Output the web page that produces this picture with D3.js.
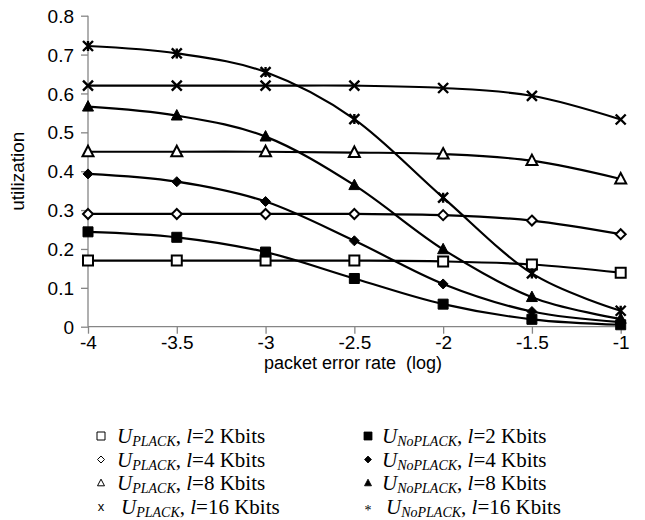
<!DOCTYPE html>
<html>
<head>
<meta charset="utf-8">
<script src="https://cdn.jsdelivr.net/npm/d3@7"></script>
<style>
  body { margin: 0; background: #fff; }
  svg { display: block; }
</style>
</head>
<body>
<div id="chart"></div>
<script>
// data
const xValues = [-4, -3.5, -3, -2.5, -2, -1.5, -1];
const yTicks = [0, 0.1, 0.2, 0.3, 0.4, 0.5, 0.6, 0.7, 0.8];

const plack2 = [0.17, 0.17, 0.17, 0.17, 0.168, 0.16, 0.139];
const plack4 = [0.29, 0.29, 0.29, 0.29, 0.287, 0.273, 0.238];
const plack8 = [0.45, 0.45, 0.45, 0.448, 0.444, 0.427, 0.38];
const plack16 = [0.62, 0.62, 0.62, 0.62, 0.614, 0.594, 0.533];

const noplack2 = [0.244, 0.23, 0.192, 0.124, 0.058, 0.019, 0.005];
const noplack4 = [0.393, 0.373, 0.322, 0.221, 0.11, 0.039, 0.012];
const noplack8 = [0.566, 0.543, 0.489, 0.364, 0.199, 0.076, 0.02];
const noplack16 = [0.722, 0.703, 0.655, 0.534, 0.332, 0.137, 0.041];

const series = [
  { values: plack2, marker: "square", filled: false, size: "2", sub: "PLACK" },
  { values: plack4, marker: "diamond", filled: false, size: "4", sub: "PLACK" },
  { values: plack8, marker: "triangle", filled: false, size: "8", sub: "PLACK" },
  { values: plack16, marker: "x", filled: false, size: "16", sub: "PLACK" },
  { values: noplack2, marker: "square", filled: true, size: "2", sub: "NoPLACK" },
  { values: noplack4, marker: "diamond", filled: true, size: "4", sub: "NoPLACK" },
  { values: noplack8, marker: "triangle", filled: true, size: "8", sub: "NoPLACK" },
  { values: noplack16, marker: "star", filled: true, size: "16", sub: "NoPLACK" }
];

const width = 645, height = 520;
const plotLeft = 88, plotRight = 620.7, plotTop = 15.7, plotBottom = 326.7;
const sans = "'Liberation Sans', Arial, sans-serif";
const serif = "'Liberation Serif', 'Times New Roman', serif";

const svg = d3.select("#chart").append("svg")
  .attr("width", width)
  .attr("height", height);

const x = d3.scaleLinear().domain([-4, -1]).range([plotLeft, plotRight]);
const y = d3.scaleLinear().domain([0, 0.8]).range([plotBottom, plotTop]);

// axes
const axisColor = "#868686";
const yAxis = d3.axisLeft(y).tickValues(yTicks).tickSize(7).tickFormat(d => String(+d.toFixed(1)));
const xAxis = d3.axisBottom(x).tickValues(xValues).tickSize(7).tickFormat(d => String(d));

const gy = svg.append("g").attr("transform", `translate(${plotLeft},0)`).call(yAxis);
const gx = svg.append("g").attr("transform", `translate(0,${plotBottom})`).call(xAxis);

[gx, gy].forEach(g => {
  g.select(".domain").attr("stroke", axisColor).attr("stroke-width", 1.3);
  g.selectAll(".tick line").attr("stroke", axisColor).attr("stroke-width", 1.3);
  g.selectAll(".tick text")
    .attr("fill", "#000")
    .style("font-family", sans)
    .style("font-size", "19px");
});
gy.select(".domain").attr("d", `M0,${plotBottom}V${plotTop}`);
gx.select(".domain").attr("d", `M${plotLeft},0H${plotRight}`);
gy.selectAll(".tick text").attr("x", -14).attr("dy", "0.35em");
gx.selectAll(".tick text").attr("y", 22).attr("dy", 0);

// axis titles
svg.append("text")
  .attr("transform", `translate(24,${(plotTop + plotBottom) / 2}) rotate(-90)`)
  .attr("text-anchor", "middle")
  .style("font-family", sans)
  .style("font-size", "19px")
  .text("utilization");

svg.append("text")
  .attr("x", 353)
  .attr("y", 369)
  .attr("text-anchor", "middle")
  .style("font-family", sans)
  .style("font-size", "18px")
  .style("white-space", "pre")
  .text("packet error rate  (log)");

// markers
function markerPath(type, s) {
  const h = s / 2;
  if (type === "square") return `M${-h},${-h}H${h}V${h}H${-h}Z`;
  if (type === "diamond") return `M0,${-h}L${h},0L0,${h}L${-h},0Z`;
  if (type === "triangle") return `M0,${-h * 1.1}L${h},${h * 0.8}L${-h},${h * 0.8}Z`;
  if (type === "x") return `M${-h},${-h}L${h},${h}M${h},${-h}L${-h},${h}`;
  if (type === "star") return `M${-h},${-h}L${h},${h}M${h},${-h}L${-h},${h}M0,${-h}V${h}`;
}

const line = d3.line()
  .x((d, i) => x(xValues[i]))
  .y(d => y(d))
  .curve(d3.curveCatmullRom.alpha(0));

svg.append("g").selectAll("path")
  .data(series)
  .join("path")
  .attr("d", d => line(d.values))
  .attr("fill", "none")
  .attr("stroke", "#000")
  .attr("stroke-width", 2.2);

series.forEach(s => {
  const open = !s.filled && (s.marker === "square" || s.marker === "diamond" || s.marker === "triangle");
  const size = s.marker === "diamond" ? 10 : (s.marker === "triangle" ? 11 : 10);
  svg.append("g").selectAll("path")
    .data(s.values)
    .join("path")
    .attr("transform", (d, i) => `translate(${x(xValues[i])},${y(d)})`)
    .attr("d", markerPath(s.marker, size))
    .attr("fill", (s.marker === "x" || s.marker === "star") ? "none" : (open ? "#fff" : "#000"))
    .attr("stroke", "#000")
    .attr("stroke-width", open ? 2 : (s.marker === "x" || s.marker === "star" ? 2.4 : 1));
});

// legend
const legendRows = [436, 459.5, 483, 506.5];
const legendCols = [
  { mx: 101, tx: 117 },
  { mx: 368, tx: 382 }
];

series.forEach((s, i) => {
  const col = legendCols[i < 4 ? 0 : 1];
  const row = legendRows[i % 4];
  const g = svg.append("g");
  if (s.marker === "x") {
    g.append("text").attr("x", col.mx).attr("y", row + 4)
      .attr("text-anchor", "middle")
      .style("font-family", sans)
      .style("font-size", "13px").text("x");
  } else if (s.marker === "star") {
    g.append("text").attr("x", col.mx).attr("y", row + 8)
      .attr("text-anchor", "middle")
      .style("font-family", serif)
      .style("font-size", "14px").text("*");
  } else {
    const sz = s.marker === "square" ? 8 : 7;
    g.append("path")
      .attr("transform", `translate(${col.mx},${row})`)
      .attr("d", markerPath(s.marker, sz))
      .attr("fill", s.filled ? "#000" : "#fff")
      .attr("stroke", "#000")
      .attr("stroke-width", s.filled ? 0.8 : 1);
  }
  const tx = col.tx + (s.size === "16" ? 4 : 0);
  const t = g.append("text")
    .attr("x", tx)
    .attr("y", row + 7)
    .style("font-family", serif)
    .style("font-size", "21px");
  t.append("tspan").style("font-style", "italic").text("U");
  t.append("tspan").style("font-style", "italic").style("font-size", "14px").attr("dy", 3).text(s.sub);
  t.append("tspan").attr("dy", -3).text(", ");
  t.append("tspan").style("font-style", "italic").text("l");
  t.append("tspan").text("=" + s.size + " Kbits");
});
</script>
</body>
</html>
